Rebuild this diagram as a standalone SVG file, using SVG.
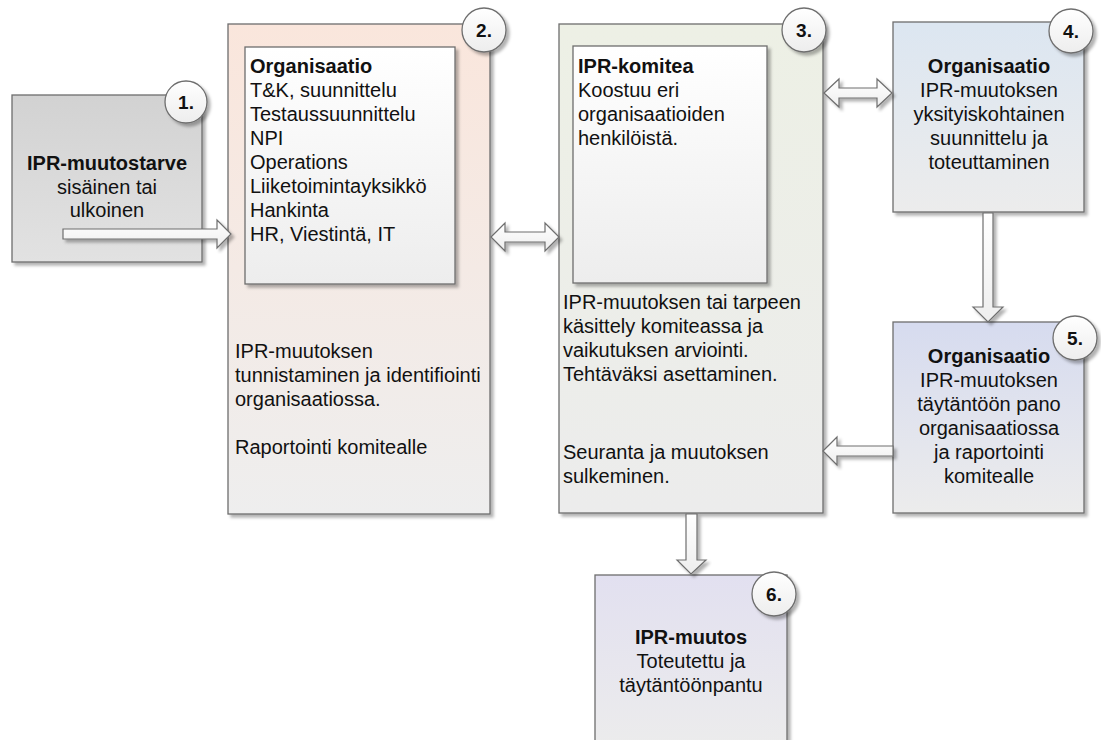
<svg xmlns="http://www.w3.org/2000/svg" width="1101" height="740" viewBox="0 0 1101 740">
<defs>
<filter id="sh" x="-10%" y="-10%" width="130%" height="130%">
<feDropShadow dx="3" dy="3" stdDeviation="1.5" flood-color="#000" flood-opacity="0.3"/>
</filter>
<linearGradient id="g1" x1="0" y1="0" x2="0" y2="1"><stop offset="0" stop-color="#d2d2d2"/><stop offset="1" stop-color="#e2e2e2"/></linearGradient>
<linearGradient id="g2" x1="0" y1="0" x2="0" y2="1"><stop offset="0" stop-color="#fae6dc"/><stop offset="1" stop-color="#eeeeee"/></linearGradient>
<linearGradient id="g3" x1="0" y1="0" x2="0" y2="1"><stop offset="0" stop-color="#edf0e5"/><stop offset="1" stop-color="#ececec"/></linearGradient>
<linearGradient id="g4" x1="0" y1="0" x2="0" y2="1"><stop offset="0" stop-color="#dce6f1"/><stop offset="1" stop-color="#ececec"/></linearGradient>
<linearGradient id="g5" x1="0" y1="0" x2="0" y2="1"><stop offset="0" stop-color="#d6dbef"/><stop offset="1" stop-color="#ececec"/></linearGradient>
<linearGradient id="g6" x1="0" y1="0" x2="0" y2="1"><stop offset="0" stop-color="#e2e0f0"/><stop offset="1" stop-color="#ececec"/></linearGradient>
<linearGradient id="gw" x1="0" y1="0" x2="0" y2="1"><stop offset="0" stop-color="#ffffff"/><stop offset="1" stop-color="#ededed"/></linearGradient>
<linearGradient id="ga" x1="0" y1="0" x2="0" y2="1"><stop offset="0" stop-color="#ffffff"/><stop offset="1" stop-color="#eeeeee"/></linearGradient>
</defs>
<style>
.box{stroke:#6e6e6e;stroke-width:1.3;filter:url(#sh)}
.inner{fill:url(#gw);stroke:#6e6e6e;stroke-width:1.3;filter:url(#sh)}
.circ{fill:url(#gw);stroke:#6e6e6e;stroke-width:1.3;filter:url(#sh)}
.arr{fill:url(#ga);stroke:#6e6e6e;stroke-width:1.2;filter:url(#sh)}
text{font-family:"Liberation Sans",Arial,sans-serif;font-size:20px;fill:#111}
.b{font-weight:bold}
.c{text-anchor:middle}
.num{font-weight:bold;text-anchor:middle;font-size:19px}
</style>
<g id="node1">
<rect class="box" x="12" y="95" width="190" height="167" fill="url(#g1)"/>
<text class="b c" x="107" y="170">IPR-muutostarve</text>
<text class="c" x="107" y="194">sisäinen tai</text>
<text class="c" x="107" y="217">ulkoinen</text>
<circle class="circ" cx="186" cy="102" r="21"/>
<text class="num" x="186" y="109">1.</text>
</g>
<g id="node2">
<rect class="box" x="228" y="24" width="262" height="490" fill="url(#g2)"/>
<rect class="inner" x="245" y="47" width="210" height="237"/>
<text class="b" x="250" y="73">Organisaatio</text>
<text x="250" y="97">T&amp;K, suunnittelu</text>
<text x="250" y="121">Testaussuunnittelu</text>
<text x="250" y="145">NPI</text>
<text x="250" y="169">Operations</text>
<text x="250" y="193">Liiketoimintayksikkö</text>
<text x="250" y="217">Hankinta</text>
<text x="250" y="241">HR, Viestintä, IT</text>
<text x="235" y="358">IPR-muutoksen</text>
<text x="235" y="382">tunnistaminen ja identifiointi</text>
<text x="235" y="406">organisaatiossa.</text>
<text x="235" y="454">Raportointi komitealle</text>
<circle class="circ" cx="484" cy="30" r="22"/>
<text class="num" x="484" y="37">2.</text>
</g>
<g id="node3">
<rect class="box" x="559" y="24" width="264" height="489" fill="url(#g3)"/>
<rect class="inner" x="573" y="46" width="194" height="237"/>
<text class="b" x="578" y="73">IPR-komitea</text>
<text x="578" y="97">Koostuu eri</text>
<text x="578" y="121">organisaatioiden</text>
<text x="578" y="145">henkilöistä.</text>
<text x="563" y="309">IPR-muutoksen tai tarpeen</text>
<text x="563" y="333">käsittely komiteassa ja</text>
<text x="563" y="357">vaikutuksen arviointi.</text>
<text x="563" y="381">Tehtäväksi asettaminen.</text>
<text x="563" y="459">Seuranta ja muutoksen</text>
<text x="563" y="483">sulkeminen.</text>
<circle class="circ" cx="804" cy="30" r="22"/>
<text class="num" x="804" y="37">3.</text>
</g>
<g id="node4">
<rect class="box" x="893" y="22" width="191" height="190" fill="url(#g4)"/>
<text class="b c" x="989" y="73">Organisaatio</text>
<text class="c" x="989" y="97">IPR-muutoksen</text>
<text class="c" x="989" y="121">yksityiskohtainen</text>
<text class="c" x="989" y="145">suunnittelu ja</text>
<text class="c" x="989" y="169">toteuttaminen</text>
<circle class="circ" cx="1071" cy="31" r="22"/>
<text class="num" x="1071" y="38">4.</text>
</g>
<g id="node5">
<rect class="box" x="893" y="322" width="191" height="191" fill="url(#g5)"/>
<text class="b c" x="989" y="363">Organisaatio</text>
<text class="c" x="989" y="387">IPR-muutoksen</text>
<text class="c" x="989" y="411">täytäntöön pano</text>
<text class="c" x="989" y="435">organisaatiossa</text>
<text class="c" x="989" y="459">ja raportointi</text>
<text class="c" x="989" y="483">komitealle</text>
<circle class="circ" cx="1075" cy="338" r="22"/>
<text class="num" x="1075" y="345">5.</text>
</g>
<g id="node6">
<rect class="box" x="595" y="575" width="192" height="175" fill="url(#g6)"/>
<text class="b c" x="691" y="644">IPR-muutos</text>
<text class="c" x="691" y="668">Toteutettu ja</text>
<text class="c" x="691" y="692">täytäntöönpantu</text>
<circle class="circ" cx="774" cy="594" r="22"/>
<text class="num" x="774" y="601">6.</text>
</g>
<g id="connectors">
<polygon class="arr" points="63,229 217,229 217,220 231,234 217,248 217,239 63,239"/>
<polygon class="arr" points="491,237 505,223 505,232 545,232 545,223 559,237 545,251 545,242 505,242 505,251"/>
<polygon class="arr" points="824,93 839,79 839,88 877,88 877,79 892,93 877,107 877,98 839,98 839,107"/>
<polygon class="arr" points="983,213 993,213 993,307 1003,307 988,322 973,307 983,307"/>
<polygon class="arr" points="823,451 837,437 837,446 893,446 893,456 837,456 837,465"/>
<polygon class="arr" points="686,514 697,514 697,560 706,560 691,574 677,560 686,560"/>
</g>
</svg>
